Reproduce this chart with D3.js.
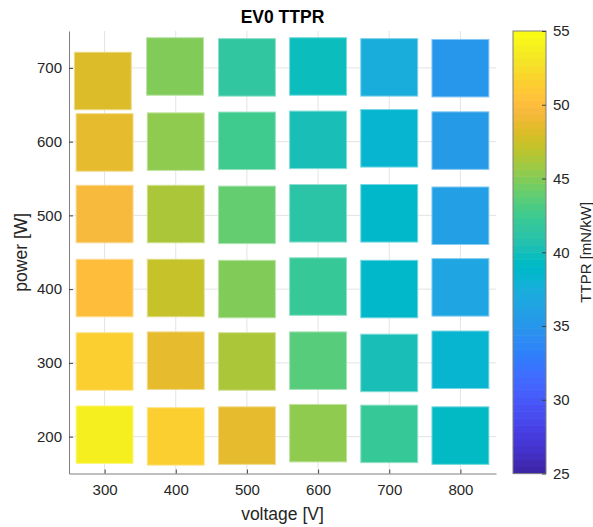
<!DOCTYPE html>
<html>
<head>
<meta charset="utf-8">
<script src="https://cdn.jsdelivr.net/npm/d3@7"></script>
<style>
  html, body { margin: 0; padding: 0; background: #ffffff; }
  svg { display: block; }
  text { font-family: "Liberation Sans", Arial, Helvetica, sans-serif; }
</style>
</head>
<body>
<svg id="chart" width="593" height="527"></svg>
<script>
// ---------------- data ----------------
const titleText = "EV0 TTPR";
const xLabel = "voltage [V]";
const yLabel = "power [W]";
const cbLabel = "TTPR [mN/kW]";

const xTicks = [300, 400, 500, 600, 700, 800];
const yTicks = [200, 300, 400, 500, 600, 700];
const cbTicks = [25, 30, 35, 40, 45, 50, 55];

const voltages = [300, 400, 500, 600, 700, 800];   // nominal columns
const powers = [200, 300, 400, 500, 600, 700];     // nominal rows

// measured voltage at each cell (rows = powers, cols = voltages)
const measuredV = [
  [300, 400, 500, 600, 700, 800],
  [300, 400, 500, 600, 700, 800],
  [300, 400, 500, 600, 700, 800],
  [300, 400, 500, 600, 700, 800],
  [300, 400, 500, 600, 700, 800],
  [297.5, 399, 500, 600, 700, 800]
];
// measured power at each cell
const measuredP = [
  [202.6, 200.3, 201.4, 204.7, 203.7, 201.4],
  [301.9, 303.0, 301.9, 303.0, 299.9, 304.2],
  [401.5, 401.5, 400.1, 403.5, 400.1, 402.4],
  [501.8, 501.8, 500.7, 502.8, 502.8, 499.5],
  [598.9, 600.0, 601.1, 602.4, 604.5, 601.4],
  [682.2, 701.9, 700.7, 701.9, 700.7, 699.6]
];
// TTPR [mN/kW]
const ttpr = [
  [53.9, 51.6, 48.7, 45.4, 42.1, 39.3],
  [51.6, 48.7, 46.3, 43.5, 40.2, 38.4],
  [50.2, 47.3, 44.9, 42.1, 39.0, 36.5],
  [49.7, 46.3, 44.0, 41.2, 38.8, 36.0],
  [48.7, 45.4, 42.6, 40.2, 38.4, 35.5],
  [48.2, 44.9, 41.6, 39.8, 37.4, 35.1]
];

const cLim = [25, 55];

// MATLAB parula(64)
const parula = [
[0.2422,0.1504,0.6603],[0.2504,0.1650,0.7076],[0.2578,0.1818,0.7511],[0.2647,0.1978,0.7952],
[0.2706,0.2147,0.8364],[0.2751,0.2342,0.8710],[0.2783,0.2559,0.8991],[0.2803,0.2782,0.9221],
[0.2813,0.3006,0.9414],[0.2810,0.3228,0.9579],[0.2795,0.3447,0.9717],[0.2760,0.3667,0.9829],
[0.2699,0.3892,0.9906],[0.2602,0.4123,0.9952],[0.2440,0.4358,0.9988],[0.2206,0.4603,0.9973],
[0.1963,0.4847,0.9892],[0.1834,0.5074,0.9798],[0.1786,0.5289,0.9682],[0.1764,0.5499,0.9520],
[0.1687,0.5703,0.9359],[0.1540,0.5902,0.9218],[0.1460,0.6091,0.9079],[0.1380,0.6276,0.8973],
[0.1248,0.6459,0.8883],[0.1113,0.6635,0.8763],[0.0952,0.6798,0.8598],[0.0689,0.6948,0.8394],
[0.0297,0.7082,0.8163],[0.0036,0.7203,0.7917],[0.0067,0.7312,0.7660],[0.0433,0.7411,0.7394],
[0.0964,0.7500,0.7120],[0.1408,0.7584,0.6842],[0.1717,0.7670,0.6554],[0.1938,0.7758,0.6251],
[0.2161,0.7843,0.5923],[0.2470,0.7918,0.5567],[0.2906,0.7973,0.5188],[0.3406,0.8008,0.4789],
[0.3909,0.8029,0.4354],[0.4456,0.8024,0.3909],[0.5044,0.7993,0.3480],[0.5616,0.7942,0.3045],
[0.6174,0.7876,0.2612],[0.6720,0.7793,0.2227],[0.7242,0.7698,0.1910],[0.7738,0.7598,0.1646],
[0.8203,0.7498,0.1535],[0.8634,0.7406,0.1596],[0.9035,0.7330,0.1774],[0.9393,0.7288,0.2100],
[0.9728,0.7298,0.2394],[0.9956,0.7434,0.2371],[0.9970,0.7659,0.2199],[0.9952,0.7893,0.2028],
[0.9892,0.8136,0.1885],[0.9786,0.8386,0.1766],[0.9676,0.8639,0.1643],[0.9610,0.8890,0.1537],
[0.9597,0.9135,0.1423],[0.9628,0.9373,0.1265],[0.9691,0.9606,0.1064],[0.9769,0.9839,0.0805]
];

// ---------------- drawing ----------------
const svg = d3.select("#chart");
const plot = { left: 69, right: 496, top: 31, bottom: 473.5 };
const cb = { left: 513, right: 546 };
const cellW = 80, cellH = 78; // cell size in data units
const txtColor = "#262626";
const axColor = "#7f7f7f";

const x = d3.scaleLinear().domain([250, 850]).range([plot.left, plot.right]);
const y = d3.scaleLinear().domain([150, 750]).range([plot.bottom, plot.top]);

const nC = parula.length;
const colorIndex = d3.scaleQuantize().domain(cLim).range(d3.range(nC));
const toRgb = c => d3.rgb(c[0] * 255, c[1] * 255, c[2] * 255).formatHex();
const colorOf = v => toRgb(parula[colorIndex(Math.max(cLim[0], Math.min(cLim[1] - 1e-9, v)))]);

// grid
const grid = svg.append("g");
grid.selectAll("line.gx").data(xTicks).join("line")
  .attr("x1", d => x(d)).attr("x2", d => x(d))
  .attr("y1", plot.top).attr("y2", plot.bottom)
  .attr("stroke", "#e3e3e3").attr("stroke-width", 1);
grid.selectAll("line.gy").data(yTicks).join("line")
  .attr("x1", plot.left).attr("x2", plot.right)
  .attr("y1", d => y(d)).attr("y2", d => y(d))
  .attr("stroke", "#e3e3e3").attr("stroke-width", 1);

// cells
const cells = [];
powers.forEach((p, i) => voltages.forEach((v, j) => {
  cells.push({ v: measuredV[i][j], p: measuredP[i][j], val: ttpr[i][j] });
}));
svg.append("g").selectAll("rect").data(cells).join("rect")
  .attr("x", d => x(d.v - cellW / 2))
  .attr("y", d => y(d.p + cellH / 2))
  .attr("width", d => x(d.v + cellW / 2) - x(d.v - cellW / 2))
  .attr("height", d => y(d.p - cellH / 2) - y(d.p + cellH / 2))
  .attr("fill", d => colorOf(d.val))
  .attr("stroke", d => d3.interpolateRgb(colorOf(d.val), "#ffffff")(0.45))
  .attr("stroke-width", 1);

// axes
const xAxis = svg.append("g").attr("transform", `translate(0,${plot.bottom})`)
  .call(d3.axisBottom(x).tickValues(xTicks).tickSizeInner(-4).tickSizeOuter(0).tickPadding(11));
const yAxis = svg.append("g").attr("transform", `translate(${plot.left},0)`)
  .call(d3.axisLeft(y).tickValues(yTicks).tickSizeInner(-4).tickSizeOuter(0).tickPadding(7));
[xAxis, yAxis].forEach(a => {
  a.select(".domain").attr("stroke", axColor).attr("stroke-width", 1);
  a.selectAll(".tick line").attr("stroke", "#404040");
  a.selectAll(".tick text").attr("fill", txtColor)
    .style("font-size", "15px").style("font-family", "'Liberation Sans', Arial, sans-serif");
});

// title & labels
svg.append("text").attr("x", (plot.left + plot.right) / 2).attr("y", 23)
  .attr("text-anchor", "middle").attr("font-weight", "bold")
  .attr("font-size", "17.5px").attr("fill", "#000").text(titleText);
svg.append("text").attr("x", (plot.left + plot.right) / 2).attr("y", 520)
  .attr("text-anchor", "middle").attr("font-size", "17.5px").attr("fill", txtColor).text(xLabel);
svg.append("text").attr("transform", `translate(27,${(plot.top + plot.bottom) / 2}) rotate(-90)`)
  .attr("text-anchor", "middle").attr("font-size", "17.5px").attr("fill", txtColor).text(yLabel);

// colorbar
const cy = d3.scaleLinear().domain(cLim).range([plot.bottom, plot.top]);
const step = (cLim[1] - cLim[0]) / nC;
svg.append("g").selectAll("rect").data(parula).join("rect")
  .attr("x", cb.left)
  .attr("y", (d, i) => cy(cLim[0] + (i + 1) * step))
  .attr("width", cb.right - cb.left)
  .attr("height", (d, i) => cy(cLim[0] + i * step) - cy(cLim[0] + (i + 1) * step) + 0.6)
  .attr("fill", d => toRgb(d));
svg.append("rect").attr("x", cb.left).attr("y", plot.top)
  .attr("width", cb.right - cb.left).attr("height", plot.bottom - plot.top)
  .attr("fill", "none").attr("stroke", axColor).attr("stroke-width", 1);
const cbAxis = svg.append("g").attr("transform", `translate(${cb.right},0)`)
  .call(d3.axisRight(cy).tickValues(cbTicks).tickSizeInner(-4).tickSizeOuter(0).tickPadding(7));
cbAxis.select(".domain").remove();
cbAxis.selectAll(".tick line").attr("stroke", "#404040");
cbAxis.selectAll(".tick text").attr("fill", txtColor)
  .style("font-size", "15px").style("font-family", "'Liberation Sans', Arial, sans-serif");
svg.append("text").attr("transform", `translate(591,${(plot.top + plot.bottom) / 2}) rotate(-90)`)
  .attr("text-anchor", "middle").attr("font-size", "15px").attr("fill", txtColor).text(cbLabel);
</script>
</body>
</html>
